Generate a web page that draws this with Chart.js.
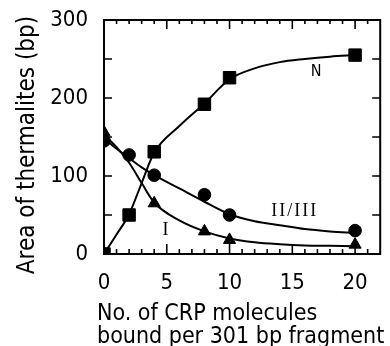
<!DOCTYPE html>
<html><head><meta charset="utf-8">
<script src="https://cdn.jsdelivr.net/npm/chart.js@4/dist/chart.umd.min.js"></script>
<style>html,body{margin:0;padding:0;background:#fff}#wrap{width:390px;height:346px}</style>
</head><body><div id="wrap"><canvas id="c" width="390" height="346"></canvas></div>
<script>
// ---- data ----
const squareX = [0, 2, 4, 8, 10, 20];
const nValues = [0, 50, 131, 192, 226, 255];
const circleX = [0, 2, 4, 8, 10, 20];
const twoThreeValues = [145, 127, 101, 76, 50, 30];
const triangleX = [0, 4, 8, 10, 20];
const oneValues = [156, 65, 29, 18, 12];

// fitted curves
const curveX = [0, 1, 2, 3, 4, 6, 8, 10, 12, 14, 16, 18, 20];
const nCurve = [0, 25, 51, 91, 130, 164, 193, 224, 238, 246, 250, 253, 255];
const twoThreeCurve = [148, 135, 123, 111, 101, 84, 67, 51, 42, 37, 32, 29, 27];
const oneCurve = [153, 137, 117, 91, 66, 43, 29, 20, 15, 12.5, 11, 10.5, 10];

const xTicks = [0, 5, 10, 15, 20];
const yTicks = [0, 100, 200, 300];
const curveLabels = [
  { text: 'N', x: 16.9, y: 234, serif: false },
  { text: 'II/III', x: 15.2, y: 55, serif: true },
  { text: 'I', x: 4.98, y: 31, serif: true }
];
const xTitleLines = ['No. of CRP molecules', 'bound per 301 bp fragment'];
const yTitle = 'Area of thermalites (bp)';

const FONT = "'DejaVu Sans Condensed', 'Liberation Sans Narrow', 'DejaVu Sans', sans-serif";

function pts(xs, ys) { return xs.map((x, i) => ({ x: x, y: ys[i] })); }

const framePlugin = {
  id: 'frame',
  beforeDatasetsDraw(chart) {
    const { ctx, chartArea: a, scales } = chart;
    const xs = scales.x, ys = scales.y;
    ctx.save();
    ctx.strokeStyle = '#000';
    ctx.lineWidth = 2;
    ctx.strokeRect(a.left, a.top, a.right - a.left, a.bottom - a.top);
    ctx.lineWidth = 1.6;
    ctx.beginPath();
    for (let v = 1; v <= 21; v++) {
      const px = xs.getPixelForValue(v);
      const major = v % 5 === 0;
      const lb = major ? 10 : 5, lt = major ? 9 : 4;
      ctx.moveTo(px, a.bottom); ctx.lineTo(px, a.bottom - lb);
      ctx.moveTo(px, a.top); ctx.lineTo(px, a.top + lt);
    }
    for (let v = 50; v < 300; v += 50) {
      const py = ys.getPixelForValue(v);
      ctx.moveTo(a.left, py); ctx.lineTo(a.left + 8, py);
      ctx.moveTo(a.right, py); ctx.lineTo(a.right - 8, py);
    }
    ctx.stroke();
    ctx.restore();
  },
  afterDraw(chart) {
    const { ctx, scales } = chart;
    ctx.save();
    ctx.fillStyle = '#000';
    ctx.textBaseline = 'middle';
    ctx.textAlign = 'center';
    curveLabels.forEach(l => {
      ctx.font = l.serif ? "18px 'Liberation Serif', serif" : "16px " + FONT;
      ctx.letterSpacing = l.serif ? '2px' : '0px';
      ctx.fillText(l.text, scales.x.getPixelForValue(l.x), scales.y.getPixelForValue(l.y));
    });
    ctx.letterSpacing = '0px';
    ctx.font = "23px " + FONT;
    ctx.textAlign = 'left';
    ctx.textBaseline = 'alphabetic';
    ctx.fillText(xTitleLines[0], 97, 320);
    ctx.fillText(xTitleLines[1], 97, 343);
    ctx.font = "24px " + FONT;
    ctx.translate(34, 145);
    ctx.rotate(-Math.PI / 2);
    ctx.textAlign = 'center';
    ctx.fillText(yTitle, 0, 0);
    ctx.restore();
  }
};

const lineDs = (label, ys) => ({
  label: label, data: pts(curveX, ys), showLine: true, pointRadius: 0,
  borderColor: '#000', borderWidth: 2, cubicInterpolationMode: 'monotone', fill: false
});
const markDs = (label, xs, ys, style, r) => ({
  label: label, data: pts(xs, ys), showLine: false, pointStyle: style, pointRadius: r,
  backgroundColor: '#000', borderColor: '#000', borderWidth: 1
});

new Chart(document.getElementById('c'), {
  type: 'scatter',
  data: {
    datasets: [
      lineDs('N fit', nCurve),
      lineDs('II/III fit', twoThreeCurve),
      lineDs('I fit', oneCurve),
      markDs('N', squareX, nValues, 'rect', 8.8),
      markDs('II/III', circleX, twoThreeValues, 'circle', 6.3),
      markDs('I', triangleX, oneValues, 'triangle', 7)
    ]
  },
  options: {
    responsive: false, animation: false, devicePixelRatio: 1,
    layout: { padding: { top: 20, right: 8, left: 0, bottom: 0 } },
    plugins: { legend: { display: false }, tooltip: { enabled: false } },
    scales: {
      x: {
        type: 'linear', min: 0, max: 22,
        grid: { display: false, drawTicks: false }, border: { display: false },
        afterBuildTicks(s) { s.ticks = xTicks.map(v => ({ value: v })); },
        ticks: { padding: 16, color: '#000', font: { family: FONT, size: 22 } },
        afterFit(s) { s.height = 92; s.paddingLeft = 0; s.paddingRight = 0; }
      },
      y: {
        type: 'linear', min: 0, max: 300,
        grid: { display: false, drawTicks: false }, border: { display: false },
        afterBuildTicks(s) { s.ticks = yTicks.map(v => ({ value: v })); },
        ticks: { padding: 16, color: '#000', font: { family: FONT, size: 22 } },
        afterFit(s) { s.width = 104; s.paddingTop = 0; s.paddingBottom = 0; }
      }
    }
  },
  plugins: [framePlugin]
});
</script>
</body></html>
